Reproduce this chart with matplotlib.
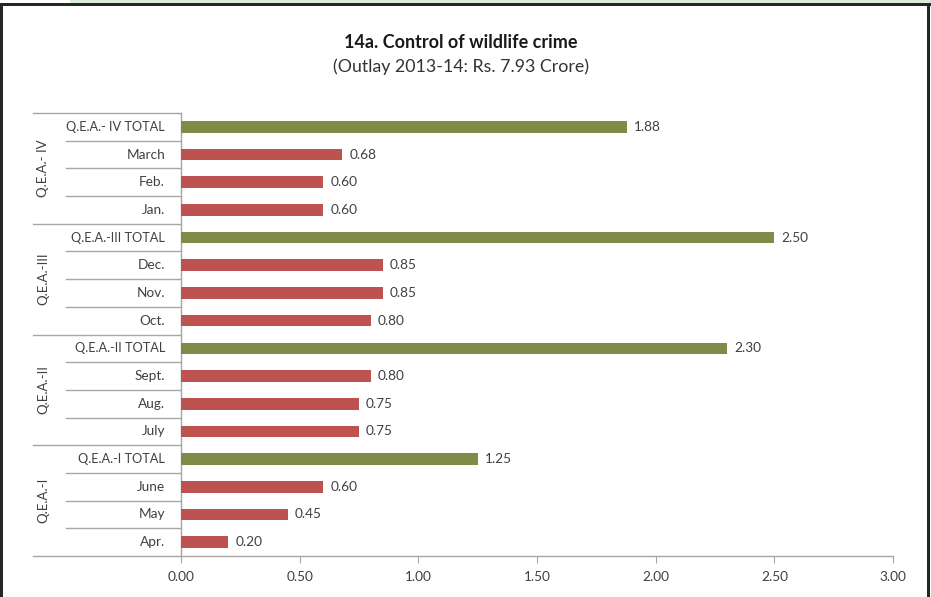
import matplotlib
matplotlib.use("Agg")
import matplotlib.pyplot as plt
from matplotlib.patches import Rectangle
from matplotlib.lines import Line2D

plt.rcParams['font.family'] = ['Lato', 'DejaVu Sans']

categories = ["Apr.", "May", "June", "Q.E.A.-I TOTAL",
              "July", "Aug.", "Sept.", "Q.E.A.-II TOTAL",
              "Oct.", "Nov.", "Dec.", "Q.E.A.-III TOTAL",
              "Jan.", "Feb.", "March", "Q.E.A.- IV TOTAL"]
values = [0.20, 0.45, 0.60, 1.25,
          0.75, 0.75, 0.80, 2.30,
          0.80, 0.85, 0.85, 2.50,
          0.60, 0.60, 0.68, 1.88]
groups = ["Q.E.A.-I", "Q.E.A.-II", "Q.E.A.-III", "Q.E.A.- IV"]
xticks = [0.0, 0.5, 1.0, 1.5, 2.0, 2.5, 3.0]
title = "14a. Control of wildlife crime"
subtitle = "(Outlay 2013-14: Rs. 7.93 Crore)"

RED = "#BE5250"
GREEN = "#7F8B46"
GRID = "#A6A6A6"
TXT = "#404040"

W, H = 931, 597
fig = plt.figure(figsize=(W / 100, H / 100), dpi=100)
fig.patch.set_facecolor("white")

# outer frame / background bits (y measured from bottom, in pixels)
fig.add_artist(Rectangle((70 / W, 593 / H), 1, 4 / H, transform=fig.transFigure,
                         facecolor="#D9EBD9", edgecolor="none"))
for x0, y0, w, h in [(0, 0, 3, 594), (0, 591, 931, 3), (927, 0, 3, 594)]:
    fig.add_artist(Rectangle((x0 / W, y0 / H), w / W, h / H,
                             transform=fig.transFigure, facecolor="#262626",
                             edgecolor="none"))

L, R, T, B = 181, 893, 113, 556
ax = fig.add_axes([L / W, (H - B) / H, (R - L) / W, (B - T) / H])
n = len(categories)
ypos = list(range(n))
colors = [GREEN if "TOTAL" in c else RED for c in categories]
ax.barh(ypos, values, height=0.42, color=colors, edgecolor="none", zorder=3)
for y, v in zip(ypos, values):
    ax.text(v + 0.03, y, f"{v:.2f}", va="center", ha="left", fontsize=9.8, color=TXT)

ax.set_xlim(0, 3.0)
ax.set_ylim(-0.5, n - 0.5)
ax.set_xticks(xticks)
ax.set_xticklabels([f"{t:.2f}" for t in xticks], fontsize=9.8, color=TXT)
ax.set_yticks([])
for s in ["top", "right"]:
    ax.spines[s].set_visible(False)
for s in ["left", "bottom"]:
    ax.spines[s].set_color(GRID)
    ax.spines[s].set_linewidth(1)
ax.tick_params(axis="x", direction="out", length=5, color=GRID, pad=6)

tr = ax.get_yaxis_transform()
xg = (33 - L) / (R - L)
xi = (66 - L) / (R - L)
xlab = (165 - L) / (R - L)
xgl = (43 - L) / (R - L)
for k in range(n + 1):
    yb = k - 0.5
    x_start = xg if k % 4 == 0 else xi
    ax.add_line(Line2D([x_start, 0], [yb, yb], transform=tr, color=GRID, lw=1,
                       clip_on=False))
for y, c in zip(ypos, categories):
    fs = 9.2 if "TOTAL" in c else 9.8
    ax.text(xlab, y, c, transform=tr, ha="right", va="center", fontsize=fs, color=TXT)
for g, name in enumerate(groups):
    yc = g * 4 + 1.5
    ax.text(xgl, yc, name, transform=tr, ha="center", va="center", rotation=90,
            fontsize=9.5, color=TXT)

fig.text(461 / W, 1 - 42 / H, title, ha="center", va="center", fontsize=13,
         fontweight="bold", color="#1a1a1a")
fig.text(461 / W, 1 - 67 / H, subtitle, ha="center", va="center", fontsize=12.8,
         color="#333333")

fig.savefig("out.png", dpi=100)
